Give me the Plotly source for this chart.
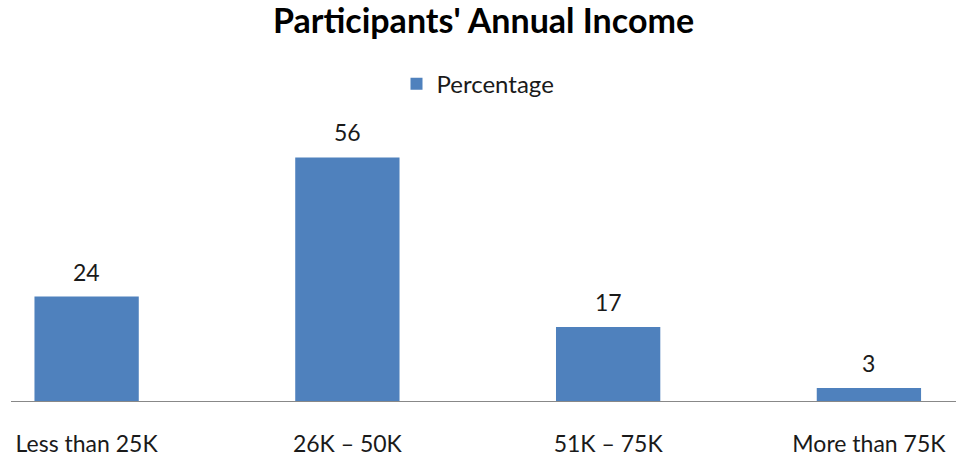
import plotly.graph_objects as go

categories = ["Less than 25K", "26K – 50K", "51K – 75K", "More than 75K"]
percentages = [24, 56, 17, 3]
series_name = "Percentage"
title_text = "Participants' Annual Income"

FONT = "Lato"
BAR_COLOR = "#4F81BD"

fig = go.Figure()
fig.add_trace(go.Bar(
    x=list(range(len(categories))),
    y=percentages,
    name=series_name,
    marker=dict(color=BAR_COLOR, line=dict(width=0)),
    width=0.4,
    showlegend=True,
))

for i, v in enumerate(percentages):
    fig.add_annotation(
        x=i, y=v, text=str(v), showarrow=False,
        yanchor="middle", yshift=25,
        font=dict(family=FONT, size=23, color="#1a1a1a"),
    )

fig.update_layout(
    width=956, height=458,
    paper_bgcolor="white", plot_bgcolor="white",
    margin=dict(l=11, r=0, t=100, b=56.5),
    title=dict(
        text="<b>" + title_text + "</b>",
        x=0.5, xref="paper", xanchor="center",
        y=1 - 21 / 458, yref="container", yanchor="middle",
        font=dict(family=FONT, size=34, color="#000000"),
    ),
    legend=dict(
        orientation="h",
        x=(478 - 11) / 945, xanchor="center",
        y=(401.5 - 84) / 301.5,
        yanchor="middle",
        font=dict(family=FONT, size=24, color="#1a1a1a"),
        bgcolor="rgba(0,0,0,0)",
    ),
    xaxis=dict(
        range=[-0.29, 3.334],
        tickmode="array",
        tickvals=list(range(len(categories))),
        ticktext=categories,
        showgrid=False, zeroline=False,
        showline=True, linecolor="#888888", linewidth=1.2,
        ticks="", ticklabelstandoff=22,
        tickfont=dict(family=FONT, size=23, color="#1a1a1a"),
    ),
    yaxis=dict(
        range=[0, 301.5 / 4.357],
        visible=False, showgrid=False, zeroline=False,
    ),
    bargap=0.6,
)

fig.write_html("out.html")
